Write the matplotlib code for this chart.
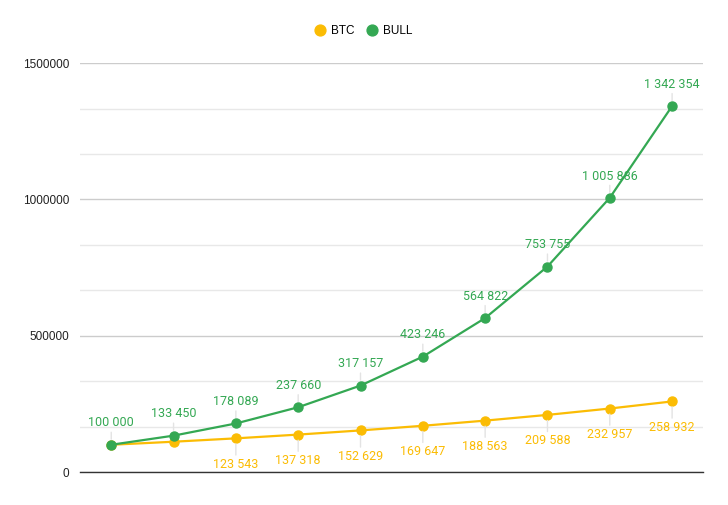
import numpy as np
import matplotlib.pyplot as plt
from matplotlib.ticker import FixedLocator, FuncFormatter

plt.rcParams['font.family'] = ['Roboto', 'DejaVu Sans']

periods = list(range(10))
btc = [100000, 111150, 123543, 137318, 152629, 169647, 188563, 209588, 232957, 258932]
bull = [100000, 133450, 178089, 237660, 317157, 423246, 564822, 753755, 1005886, 1342354]
btc_labeled = [False, False, True, True, True, True, True, True, True, True]

c_btc = "#fbbc04"
c_bull = "#34a853"

def fmt(v):
    return "{:,}".format(v).replace(",", " ")

fig = plt.figure(figsize=(7.28, 5.05), dpi=100)
ax = fig.add_axes([0.110, 0.0653, 0.856, 0.8097])

ax.plot(periods, btc, color=c_btc, lw=1.6, marker="o", ms=6.5, label="BTC", zorder=3)
ax.plot(periods, bull, color=c_bull, lw=1.6, marker="o", ms=6.5, label="BULL", zorder=4)

for x, v in zip(periods, bull):
    ax.annotate(fmt(v), (x, v), xytext=(0, 11), textcoords="offset points",
                ha="center", va="bottom", color=c_bull, fontsize=9,
                arrowprops=dict(arrowstyle="-", color="#e3e3e3", lw=1, shrinkA=0, shrinkB=4))

for x, v, show in zip(periods, btc, btc_labeled):
    if not show:
        continue
    ax.annotate(fmt(v), (x, v), xytext=(0, -14), textcoords="offset points",
                ha="center", va="top", color=c_btc, fontsize=9,
                arrowprops=dict(arrowstyle="-", color="#e3e3e3", lw=1, shrinkA=0, shrinkB=4))

ax.set_xlim(-0.5, 9.5)
ax.set_ylim(0, 1500000)
ax.yaxis.set_major_locator(FixedLocator([0, 500000, 1000000, 1500000]))
ax.yaxis.set_minor_locator(FixedLocator([166667, 333333, 666667, 833333, 1166667, 1333333]))
ax.yaxis.set_major_formatter(FuncFormatter(lambda v, p: "%d" % v))
ax.grid(axis="y", which="major", color="#cccccc", lw=1)
ax.grid(axis="y", which="minor", color="#e8e8e8", lw=1)
ax.set_axisbelow(True)
ax.tick_params(axis="y", which="both", length=0, labelsize=8.5, colors="#222222", pad=8)
for lab in ax.get_yticklabels():
    lab.set_family("Liberation Sans")
ax.tick_params(axis="x", length=0, labelbottom=False)
for s in ["top", "right", "left"]:
    ax.spines[s].set_visible(False)
ax.spines["bottom"].set_color("#333333")
ax.spines["bottom"].set_linewidth(1)

handles, labels = ax.get_legend_handles_labels()
leg = fig.legend(handles, labels, loc="center", bbox_to_anchor=(0.5, 1 - 31 / 505), ncol=2,
                 frameon=False, prop={"family": "Liberation Sans", "size": 8.5},
                 handlelength=0.8, handletextpad=0.5, columnspacing=1.1, markerscale=1.2)
for h in leg.legend_handles:
    h.set_linestyle("")

fig.savefig("out.png", dpi=100)
